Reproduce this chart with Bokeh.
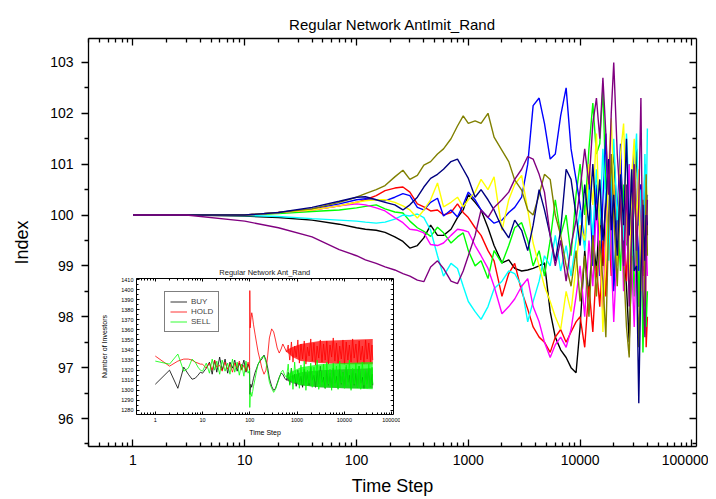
from bokeh.plotting import figure
from bokeh.models import (Range1d, LogAxis, LinearAxis, FixedTicker,
                          NumeralTickFormatter, Legend, LegendItem)
from bokeh.embed import file_html
from bokeh.resources import INLINE

FONT = "Liberation Sans"

# ------------------------------------------------------------------ data
time_step = [1, 3, 10, 20, 40, 70, 100,
             120, 150, 180, 220, 260, 300, 350, 400, 460, 530, 600, 700, 800, 900, 1000,
             1150, 1300, 1500, 1700, 2000, 2300, 2600, 3000, 3400, 3800, 4300, 4800, 5400,
             6000, 6700, 7500, 8300, 9200, 10000,
             11000, 12000, 13000, 14000, 15000, 16000, 17000, 18000, 19000, 20000, 21500,
             23000, 24500, 26000, 27500, 29000, 30500, 32000, 33500, 35000, 36500, 38000,
             39000, 40000]

index_black = [100, 100, 99.98, 99.95, 99.9, 99.82, 99.75,
               99.72, 99.7, 99.66, 99.57, 99.48, 99.35, 99.4, 99.55, 99.8, 99.6, 99.6, 99.72, 99.95, 100.1, 100.4,
               100.25, 100.1, 99.75, 99.4, 99.06, 99.12, 98.95, 98.9, 98.92, 98.95, 99.0, 99.06, 98.1,
               97.6, 97.35, 97.2, 97.0, 96.9, 97.8,
               99.3, 98.4, 99.6, 98.9, 100.1, 99.0, 100.4, 99.6, 100.8, 101.2, 99.9,
               100.7, 99.4, 98.6, 97.5, 99.2, 100.4, 101.3, 99.8, 100.6, 98.9, 99.9,
               100.5, 99.6]
index_red = [100, 100, 100.0, 100.04, 100.1, 100.18, 100.25,
             100.3, 100.38, 100.48, 100.53, 100.55, 100.45, 100.22, 100.16, 100.08, 100.1, 100.0, 100.05, 100.22, 100.05, 99.95,
             99.75, 99.6, 99.3, 99.1, 98.4, 98.85, 99.05, 98.5, 98.15, 97.8, 97.6, 97.5, 97.3,
             97.6, 97.75, 97.5, 97.7, 97.9, 98.0,
             97.4, 98.6, 97.7, 99.0, 98.2, 99.5, 98.4, 99.9, 98.8, 100.6, 99.3,
             101.1, 99.8, 98.7, 100.0, 99.1, 100.7, 99.4, 98.2, 99.8, 98.8, 100.2,
             97.4, 98.0]
index_green = [100, 100, 100.0, 100.03, 100.07, 100.1, 100.14,
               100.17, 100.2, 100.12, 100.06, 100.04, 99.88, 99.75, 99.68, 99.58, 99.76, 99.65, 99.45, 99.57, 99.65, 99.3,
               99.0, 99.1, 98.75, 99.3, 99.05, 99.4, 99.75, 99.85, 99.5, 99.0, 99.3, 98.8, 99.5,
               100.3, 99.6, 100.0, 99.2, 100.4, 101.0,
               100.0, 101.3, 102.2, 101.2, 101.4, 102.5, 100.5, 100.9, 99.5, 98.6, 100.0,
               98.9, 100.6, 99.4, 101.0, 99.7, 98.4, 99.9, 98.2, 100.2, 97.3, 98.9,
               97.8, 98.5]
index_blue = [100, 100, 100.0, 100.05, 100.12, 100.22, 100.3,
              100.32, 100.3, 100.28, 100.35, 100.42, 100.38, 100.15, 100.1, 100.25, 100.33, 99.98, 100.1, 99.96, 100.2, 100.45,
              100.3, 100.1, 99.95, 99.84, 99.9, 100.05, 100.15, 100.35, 101.0, 102.15, 102.3, 101.8, 101.1,
              101.2, 101.95, 102.5, 101.3, 100.7, 100.2,
              99.4, 100.9, 99.0, 100.6, 98.8, 100.3, 101.6, 99.6, 100.8, 98.5, 100.0,
              101.4, 99.3, 100.5, 98.7, 99.9, 101.2, 100.1, 98.9, 100.6, 99.2, 101.0,
              99.7, 100.4]
index_cyan = [100, 100, 99.99, 99.97, 99.93, 99.9, 99.88,
              99.86, 99.84, 99.86, 99.92, 100.0, 99.98, 100.02, 99.95, 99.7, 99.2, 98.8, 99.05, 98.95, 98.6, 98.3,
              98.1, 97.95, 98.2, 98.55, 98.7, 98.9, 98.85, 98.6, 97.9, 98.3, 98.7, 99.2, 99.0,
              99.6, 98.9, 99.4, 98.8, 99.5, 100.1,
              99.3, 100.5, 99.6, 100.9, 99.8, 101.3, 100.2, 99.1, 100.6, 101.5, 99.9,
              100.8, 99.5, 101.6, 100.3, 99.2, 100.9, 101.6, 99.8, 100.5, 99.0, 101.2,
              100.0, 101.7]
index_magenta = [100, 100, 100.0, 100.05, 100.1, 100.18, 100.22,
                 100.2, 100.14, 100.08, 99.95, 99.85, 99.72, 99.7, 99.65, 99.42, 99.4, 99.45, 99.6, 99.72, 99.7, 99.67,
                 99.4, 99.2, 98.95, 98.6, 98.06, 98.2, 98.35, 98.6, 98.75, 98.2, 97.9, 97.5, 97.2,
                 97.45, 97.6, 97.4, 97.75, 98.4, 99.0,
                 98.0, 99.5, 98.6, 100.2, 99.0, 98.1, 99.7, 100.9, 99.2, 97.9, 99.4,
                 100.6, 98.5, 99.8, 101.0, 99.0, 97.8, 99.5, 100.8, 98.9, 100.0, 98.4,
                 99.6, 98.8]
index_yellow = [100, 100, 100.0, 100.05, 100.1, 100.18, 100.25,
                100.28, 100.3, 100.3, 100.25, 100.18, 100.1, 99.94, 100.1, 100.3, 100.63, 100.16, 100.25, 100.35, 100.16, 100.3,
                100.45, 100.7, 100.5, 100.75, 99.7, 100.3, 100.6, 100.78, 100.1, 99.45, 99.0, 98.6, 98.3,
                98.0, 97.75, 98.5, 98.1, 99.0, 99.8,
                99.5, 101.0, 100.2, 101.6, 99.6, 97.7, 99.3, 100.9, 101.9, 100.5, 99.0,
                101.2, 101.8, 100.0, 98.6, 100.8, 101.5, 99.7, 100.9, 98.5, 100.2, 99.0,
                100.7, 100.0]
index_olive = [100, 100, 100.0, 100.05, 100.12, 100.25, 100.35,
               100.42, 100.5, 100.58, 100.75, 100.88, 100.7, 100.78, 100.98, 101.05, 101.2, 101.3, 101.5, 101.75, 101.95, 101.8,
               101.85, 101.8, 102.0, 101.53, 101.27, 101.05, 100.69, 100.49, 100.1, 100.0, 100.4, 100.8, 100.7,
               100.0, 99.6, 99.0, 98.6, 99.3, 98.3,
               99.2, 98.0, 99.6, 98.4, 99.5, 98.7, 97.6, 99.8, 101.2, 100.0, 98.6,
               100.4, 99.0, 97.8, 97.2, 99.5, 101.0, 99.4, 97.4, 99.0, 100.3, 98.2,
               100.8, 99.2]
index_navy = [100, 100, 100.0, 100.05, 100.15, 100.27, 100.35,
              100.36, 100.3, 100.25, 100.2, 100.1, 100.2, 100.35, 100.55, 100.72, 100.8, 100.9, 101.05, 101.1, 100.9, 100.72,
              100.35, 100.5, 100.3, 100.1, 99.75, 99.55, 99.9, 99.7, 99.3, 99.8, 100.5, 100.1, 99.6,
              99.1, 99.7, 100.9, 100.7, 100.0, 99.4,
              100.6, 99.8, 101.0, 99.9, 100.7, 99.5, 100.2, 101.1, 99.7, 100.4, 99.2,
              100.8, 99.8, 101.5, 99.6, 100.9, 98.9, 99.0, 96.3, 98.8, 100.2, 99.1,
              100.0, 99.8]
index_purple = [100, 100, 99.88, 99.75, 99.57, 99.32, 99.2,
                99.12, 99.05, 98.98, 98.92, 98.85, 98.8, 98.72, 98.69, 98.98, 99.1, 98.95, 98.7, 98.65, 98.9, 99.2,
                99.6, 100.1, 99.95, 100.15, 100.3, 100.45, 100.7, 100.9, 101.15, 101.1, 100.8, 100.45, 99.6,
                99.0, 99.5, 98.7, 99.4, 99.9, 100.5,
                101.3, 100.6, 101.8, 102.3, 101.5, 102.7, 101.6, 100.4, 102.0, 103.0, 101.2,
                100.2, 99.0, 100.6, 98.2, 99.7, 101.0, 99.3, 100.2, 102.3, 98.5, 97.6,
                99.4, 100.3]

series_names = ["black", "red", "green", "blue", "cyan", "magenta",
                "yellow", "olive", "navy", "purple"]
series_colors = ["#000000", "#FF0000", "#00FF00", "#0000FF", "#00FFFF", "#FF00FF",
                 "#FFFF00", "#808000", "#000080", "#800080"]
series_values = [index_black, index_red, index_green, index_blue, index_cyan,
                 index_magenta, index_yellow, index_olive, index_navy, index_purple]

x_major_ticks = [1, 10, 100, 1000, 10000, 100000]
y_major_ticks = [96, 97, 98, 99, 100, 101, 102, 103]
y_minor_ticks = [95.5, 96.5, 97.5, 98.5, 99.5, 100.5, 101.5, 102.5, 103.5]
x_minor_ticks = [m * 10 ** e for e in range(-1, 5) for m in range(2, 10)]

# inset data
inset_time = [1, 2, 3, 4, 5, 6, 7, 8, 9, 10, 12, 14, 16, 18, 20, 23, 26, 30, 34, 38, 43, 48,
              54, 60, 67, 75, 83, 92, 99,
              100, 102, 105, 110, 115, 120, 130, 140, 150, 165, 180, 200, 220, 240, 260, 290,
              320, 350, 380, 420, 460, 500, 550, 600,
              650, 700, 760, 820, 890, 960, 1040, 1120, 1210, 1310, 1420, 1540, 1660, 1800,
              1950, 2100, 2280, 2460, 2660, 2880, 3110, 3370, 3640, 3940, 4260, 4610, 4990,
              5400, 5840, 6320, 6830, 7390, 8000, 8650, 9360, 10100, 11000, 11900, 12800,
              13900, 15000, 16200, 17600, 19000, 20600, 22300, 24100, 26100, 28200, 30500,
              33000, 35700, 38600, 40000]
buy = [1306, 1320, 1302, 1323, 1316, 1311, 1312, 1315, 1318, 1317, 1322, 1328, 1316, 1330,
       1318, 1333, 1320, 1331, 1317, 1328, 1322, 1330, 1319, 1327, 1321, 1330, 1318, 1326, 1322,
       1296, 1300, 1306, 1303, 1308, 1312, 1318, 1322, 1326, 1329, 1331, 1335, 1330, 1322,
       1312, 1304, 1300, 1302, 1307, 1313, 1317, 1316, 1312, 1310,
       1318, 1306, 1322, 1309, 1316, 1304, 1320, 1308, 1314, 1303, 1321, 1307, 1317, 1305,
       1323, 1310, 1315, 1303, 1319, 1306, 1324, 1308, 1313, 1302, 1320, 1305, 1317, 1303,
       1322, 1307, 1314, 1302, 1321, 1306, 1318, 1303, 1323, 1308, 1315, 1302, 1320, 1305,
       1317, 1303, 1324, 1307, 1313, 1302, 1319, 1306, 1322, 1304, 1316, 1305]
hold = [1334, 1324, 1329, 1331, 1331, 1330, 1328, 1327, 1326, 1326, 1322, 1327, 1320, 1330,
        1323, 1325, 1319, 1328, 1321, 1326, 1318, 1327, 1322, 1329, 1320, 1325, 1319, 1328, 1321,
        1399, 1362, 1370, 1377, 1372, 1365, 1355, 1346, 1338, 1330, 1322, 1316, 1320, 1335,
        1352, 1361, 1358, 1350, 1342, 1337, 1341, 1346, 1342, 1338,
        1345, 1330, 1348, 1328, 1344, 1333, 1350, 1327, 1346, 1331, 1349, 1326, 1343, 1334,
        1351, 1329, 1347, 1325, 1344, 1332, 1350, 1328, 1346, 1330, 1349, 1326, 1345, 1333,
        1352, 1329, 1347, 1327, 1344, 1331, 1350, 1326, 1348, 1330, 1345, 1328, 1351, 1332,
        1346, 1327, 1349, 1330, 1344, 1326, 1350, 1331, 1347, 1328, 1345, 1330]
sell = [1329, 1326, 1336, 1319, 1322, 1331, 1328, 1323, 1320, 1319, 1327, 1317, 1331, 1320,
        1329, 1316, 1330, 1319, 1327, 1316, 1331, 1318, 1328, 1315, 1326, 1314, 1329, 1317, 1320,
        1283, 1295, 1298, 1294, 1299, 1304, 1312, 1320, 1326, 1330, 1333, 1334, 1328, 1318,
        1308, 1302, 1298, 1301, 1306, 1312, 1318, 1320, 1315, 1313,
        1326, 1305, 1322, 1301, 1328, 1308, 1318, 1302, 1325, 1306, 1329, 1300, 1320, 1307,
        1327, 1303, 1323, 1309, 1330, 1301, 1319, 1305, 1326, 1302, 1328, 1306, 1321, 1300,
        1327, 1304, 1324, 1301, 1329, 1307, 1318, 1302, 1325, 1305, 1330, 1300, 1322, 1306,
        1327, 1303, 1324, 1301, 1328, 1305, 1320, 1302, 1326, 1304, 1323, 1306]
# envelopes of the dense oscillation after t = 600
band_time = [600, 800, 1200, 3000, 10000, 40000]
buy_low = [1310, 1307, 1305, 1303, 1302, 1302]
buy_high = [1312, 1315, 1318, 1320, 1321, 1322]
hold_low = [1338, 1333, 1329, 1327, 1326, 1326]
hold_high = [1340, 1343, 1346, 1349, 1350, 1351]
sell_low = [1312, 1308, 1305, 1303, 1302, 1301]
sell_high = [1315, 1319, 1323, 1326, 1327, 1328]

inset_y_major = [1280, 1290, 1300, 1310, 1320, 1330, 1340, 1350, 1360, 1370, 1380, 1390, 1400, 1410]
inset_y_minor = [1285, 1295, 1305, 1315, 1325, 1335, 1345, 1355, 1365, 1375, 1385, 1395, 1405]


# ------------------------------------------------------------------ helpers
def style_axis(ax, label_size, tick_in, tick_out, minor_in, minor_out, width):
    ax.major_label_text_font = FONT
    ax.major_label_text_font_size = label_size
    ax.major_label_text_color = "black"
    ax.axis_label_text_font = FONT
    ax.axis_label_text_font_style = "normal"
    ax.axis_label_text_color = "black"
    ax.major_tick_in = tick_in
    ax.major_tick_out = tick_out
    ax.minor_tick_in = minor_in
    ax.minor_tick_out = minor_out
    ax.axis_line_width = width
    ax.major_tick_line_width = width
    ax.minor_tick_line_width = width
    ax.axis_line_color = "black"
    ax.major_tick_line_color = "black"
    ax.minor_tick_line_color = "black"


def mirror_axis(ax, tick_in, minor_in, width):
    style_axis(ax, "1px", tick_in, 0, minor_in, 0, width)
    ax.major_label_text_color = None
    ax.major_label_standoff = 0


# ------------------------------------------------------------------ main plot
p = figure(width=708, height=498, x_axis_type="log",
           x_range=Range1d(0.4, 110000), y_range=Range1d(95.45, 103.47),
           output_backend="svg", toolbar_location=None,
           min_border_left=88, min_border_right=12, min_border_top=38,
           min_border_bottom=51, outline_line_color=None)
p.title.text = "Regular Network AntImit_Rand"
p.title.align = "center"
p.title.text_font = FONT
p.title.text_font_size = "15px"
p.title.text_font_style = "normal"
p.title.text_color = "black"
p.title.standoff = 12
p.xgrid.visible = False
p.ygrid.visible = False

xt = FixedTicker(ticks=x_major_ticks, minor_ticks=x_minor_ticks)
yt = FixedTicker(ticks=y_major_ticks, minor_ticks=y_minor_ticks)

bx = p.below[0]
bx.ticker = xt
bx.formatter = NumeralTickFormatter(format="0")
bx.axis_label = "Time Step"
style_axis(bx, "14px", 7, 0, 4, 0, 1.3)
bx.axis_label_text_font_size = "18px"
bx.major_label_standoff = 8
bx.axis_label_standoff = 8

ly = p.left[0]
ly.ticker = yt
ly.formatter = NumeralTickFormatter(format="0")
ly.axis_label = "Index"
style_axis(ly, "14px", 0, 7, 0, 4, 1.3)
ly.axis_label_text_font_size = "18px"
ly.major_label_standoff = 8
ly.axis_label_standoff = 15

tx = LogAxis(ticker=xt, formatter=NumeralTickFormatter(format="0"))
mirror_axis(tx, 7, 4, 1.3)
p.add_layout(tx, "above")

ry = LinearAxis(ticker=yt, formatter=NumeralTickFormatter(format="0"))
mirror_axis(ry, 7, 4, 1.3)
p.add_layout(ry, "right")

for name, color, vals in zip(series_names, series_colors, series_values):
    p.line(time_step, vals, line_color=color, line_width=1.4)

# ------------------------------------------------------------------ inset
q = figure(width=302, height=182, x_axis_type="log",
           x_range=Range1d(0.4, 110000), y_range=Range1d(1276, 1411),
           output_backend="svg", toolbar_location=None,
           min_border_left=38, min_border_right=7, min_border_top=20,
           min_border_bottom=26, border_fill_color=None,
           background_fill_color="white", outline_line_color=None)
q.title.text = "Regular Network Ant_Rand"
q.title.align = "center"
q.title.text_font = FONT
q.title.text_font_size = "7.5px"
q.title.text_font_style = "normal"
q.title.text_color = "#222222"
q.title.standoff = 4
q.xgrid.visible = False
q.ygrid.visible = False

qxt = FixedTicker(ticks=x_major_ticks, minor_ticks=x_minor_ticks)
qyt = FixedTicker(ticks=inset_y_major, minor_ticks=inset_y_minor)

qbx = q.below[0]
qbx.ticker = qxt
qbx.formatter = NumeralTickFormatter(format="0")
qbx.axis_label = "Time Step"
style_axis(qbx, "5.5px", 3, 0, 2, 0, 1)
qbx.axis_label_text_font_size = "7px"
qbx.major_label_standoff = 3
qbx.axis_label_standoff = 4

qly = q.left[0]
qly.ticker = qyt
qly.formatter = NumeralTickFormatter(format="0")
qly.axis_label = "Number of Investors"
style_axis(qly, "5.5px", 3, 0, 2, 0, 1)
qly.axis_label_text_font_size = "7px"
qly.major_label_standoff = 3
qly.axis_label_standoff = 10

qtx = LogAxis(ticker=qxt, formatter=NumeralTickFormatter(format="0"))
mirror_axis(qtx, 3, 2, 1)
q.add_layout(qtx, "above")

qry = LinearAxis(ticker=qyt, formatter=NumeralTickFormatter(format="0"))
mirror_axis(qry, 3, 2, 1)
q.add_layout(qry, "right")

q.varea(band_time, buy_low, buy_high, fill_color="#000000", fill_alpha=0.55)
r_buy = q.line(inset_time, buy, line_color="#000000", line_width=0.8)
q.varea(band_time, hold_low, hold_high, fill_color="#FF0000", fill_alpha=0.75)
r_hold = q.line(inset_time, hold, line_color="#FF0000", line_width=0.8)
q.varea(band_time, sell_low, sell_high, fill_color="#00FF00", fill_alpha=0.7)
r_sell = q.line(inset_time, sell, line_color="#00FF00", line_width=0.8)

legend = Legend(items=[LegendItem(label="BUY", renderers=[r_buy]),
                       LegendItem(label="HOLD", renderers=[r_hold]),
                       LegendItem(label="SELL", renderers=[r_sell])],
                location=(28, 82), orientation="vertical",
                label_text_font=FONT, label_text_font_size="8px",
                label_height=9, glyph_height=9, glyph_width=17, spacing=1,
                padding=5, label_standoff=4, margin=0,
                border_line_color="black", border_line_width=1,
                background_fill_color="white", background_fill_alpha=1)
q.add_layout(legend, "center")

q.styles = {"position": "absolute", "left": "98px", "top": "258px", "z-index": "10"}

open("out.html", "w").write(file_html([p, q], INLINE))
